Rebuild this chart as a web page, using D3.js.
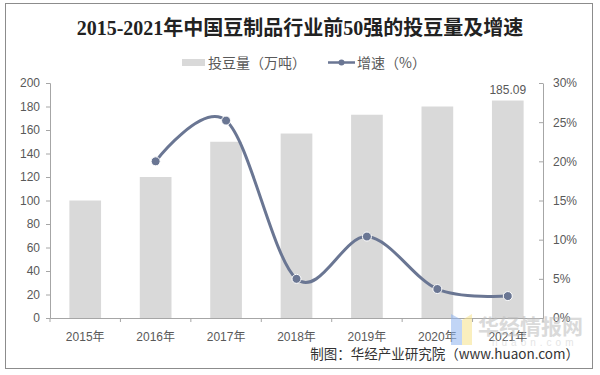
<!DOCTYPE html>
<html>
<head>
<meta charset="utf-8">
<script src="https://cdn.jsdelivr.net/npm/d3@7"></script>
<style>
  body { margin: 0; background: #fff; }
  svg { display: block; }
</style>
</head>
<body>
<svg id="chart"></svg>
<script>
// data
var years = ["2015年", "2016年", "2017年", "2018年", "2019年", "2020年", "2021年"];
var volume = [100, 120, 150, 157, 173, 180, 185.09];        // 投豆量（万吨）
var growth = [null, 20.0, 25.2, 5.0, 10.4, 3.7, 2.8];       // 增速（%）
var leftTicks = [0, 20, 40, 60, 80, 100, 120, 140, 160, 180, 200];
var rightTicks = [0, 5, 10, 15, 20, 25, 30];

var W = 600, H = 375;
var font = "Arial, 'Liberation Sans', 'Noto Sans CJK SC', sans-serif";
var cjk = "'Noto Sans CJK SC', sans-serif";

var svg = d3.select("#chart").attr("width", W).attr("height", H);

// outer frame
svg.append("rect")
   .attr("x", 5.5).attr("y", 3.5)
   .attr("width", 587).attr("height", 365)
   .attr("fill", "#fff").attr("stroke", "#8c8c8c").attr("stroke-width", 1);

var pLeft = 50, pRight = 543, pTop = 83, pBottom = 318;

var x = d3.scaleBand().domain(years).range([pLeft, pRight]).paddingInner(0.55).paddingOuter(0.275);
var xc = d3.scaleBand().domain(years).range([pLeft, pRight]);
var y = d3.scaleLinear().domain([0, 200]).range([pBottom, pTop]);
var y2 = d3.scaleLinear().domain([0, 30]).range([pBottom, pTop]);

// title
svg.append("text")
   .attr("x", 300).attr("y", 35)
   .attr("text-anchor", "middle")
   .attr("font-family", "'Liberation Serif', 'Noto Sans CJK SC', serif")
   .attr("font-weight", "bold")
   .attr("font-size", 20)
   .attr("fill", "#222")
   .text("2015-2021年中国豆制品行业前50强的投豆量及增速");

// legend
var lg = svg.append("g").attr("font-family", cjk).attr("font-size", 14).attr("fill", "#595959");
lg.append("rect").attr("x", 182).attr("y", 59).attr("width", 23).attr("height", 7).attr("fill", "#d9d9d9");
lg.append("text").attr("x", 208).attr("y", 68).text("投豆量（万吨）");
lg.append("line").attr("x1", 328).attr("x2", 355).attr("y1", 62.5).attr("y2", 62.5)
  .attr("stroke", "#6a7693").attr("stroke-width", 2.5);
lg.append("circle").attr("cx", 341.5).attr("cy", 62.5).attr("r", 3).attr("fill", "#6a7693");
lg.append("text").attr("x", 357).attr("y", 68).text("增速（%）");

// bars
svg.append("g").selectAll("rect")
   .data(volume)
   .join("rect")
   .attr("x", function(d, i) { return x(years[i]); })
   .attr("y", function(d) { return y(d); })
   .attr("width", x.bandwidth())
   .attr("height", function(d) { return pBottom - y(d); })
   .attr("fill", "#d9d9d9");

// last bar label
svg.append("text")
   .attr("x", x(years[6]) + x.bandwidth() / 2)
   .attr("y", y(volume[6]) - 7)
   .attr("text-anchor", "middle")
   .attr("font-family", font).attr("font-size", 12).attr("fill", "#595959")
   .text(d3.format(".2f")(volume[6]));

// axes
var axisColor = "#a6a6a6";
var gl = svg.append("g").attr("transform", "translate(" + pLeft + ",0)")
  .call(d3.axisLeft(y).tickValues(leftTicks).tickSize(4).tickPadding(6));
var gr = svg.append("g").attr("transform", "translate(" + pRight + ",0)")
  .call(d3.axisRight(y2).tickValues(rightTicks).tickSize(0).tickPadding(10)
        .tickFormat(function(d) { return d + "%"; }));
gr.selectAll(".tick").append("line").attr("x1", -4).attr("x2", 0).attr("stroke", axisColor);
var gx = svg.append("g").attr("transform", "translate(0," + pBottom + ")")
  .call(d3.axisBottom(xc).tickSize(0).tickPadding(14));
// category separator ticks on x axis
gx.selectAll(".sep")
  .data(years.concat(["end"]))
  .join("line")
  .attr("class", "sep")
  .attr("x1", function(d, i) { return pLeft + i * xc.step(); })
  .attr("x2", function(d, i) { return pLeft + i * xc.step(); })
  .attr("y1", 0).attr("y2", 4)
  .attr("stroke", axisColor);

[gl, gr, gx].forEach(function(g) {
  g.select(".domain").attr("stroke", axisColor);
  g.selectAll(".tick line").attr("stroke", axisColor);
  g.selectAll("text").attr("font-family", font).attr("font-size", 12).attr("fill", "#595959");
});

// growth line
var pts = growth.map(function(d, i) { return { i: i, v: d }; }).filter(function(d) { return d.v !== null; });
var line = d3.line()
  .x(function(d) { return xc(years[d.i]) + xc.bandwidth() / 2; })
  .y(function(d) { return y2(d.v); })
  .curve(d3.curveCatmullRom.alpha(0));
svg.append("path")
   .datum(pts)
   .attr("d", line)
   .attr("fill", "none")
   .attr("stroke", "#6a7693")
   .attr("stroke-width", 3);
svg.append("g").selectAll("circle")
   .data(pts)
   .join("circle")
   .attr("cx", function(d) { return xc(years[d.i]) + xc.bandwidth() / 2; })
   .attr("cy", function(d) { return y2(d.v); })
   .attr("r", 4.5)
   .attr("fill", "#6a7693")
   .attr("stroke", "#fff")
   .attr("stroke-width", 1);

// watermark
var wm = svg.append("g").attr("opacity", 0.55);
wm.append("path").attr("d", "M451,314 L462,320 L462,345 L451,345 Z").attr("fill", "#8fb4f0");
wm.append("path").attr("d", "M462,320 L472,314 L472,345 L462,345 Z").attr("fill", "#f7e38a");
wm.append("text").attr("x", 478).attr("y", 334)
  .attr("font-family", cjk).attr("font-weight", "bold").attr("font-size", 21)
  .attr("fill", "#bdbdbd").text("华经情报网");
wm.append("text").attr("x", 492).attr("y", 346)
  .attr("font-family", font).attr("font-size", 10).attr("letter-spacing", 4)
  .attr("fill", "#cfcfcf").text("huaon.com");

// source note
svg.append("text")
   .attr("x", 579).attr("y", 359)
   .attr("text-anchor", "end")
   .attr("font-family", cjk).attr("font-size", 13.5).attr("fill", "#333")
   .text("制图：华经产业研究院（www.huaon.com）");
</script>
</body>
</html>
